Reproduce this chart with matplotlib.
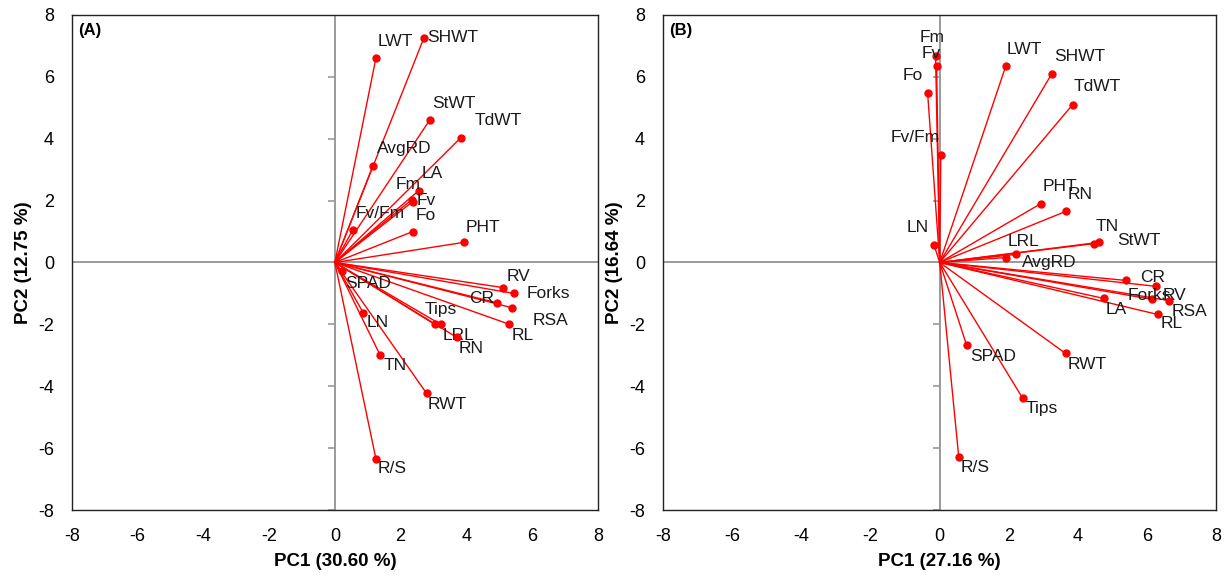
import matplotlib
matplotlib.use("Agg")
import matplotlib.pyplot as plt

plt.rcParams["font.family"] = ["Liberation Sans", "DejaVu Sans"]
plt.rcParams["axes.unicode_minus"] = False

# Panel A loadings
labels_a = ["LWT", "SHWT", "StWT", "TdWT", "AvgRD", "LA", "Fm", "Fv", "Fo", "Fv/Fm",
            "PHT", "SPAD", "RV", "Forks", "CR", "RSA", "RL", "Tips", "LRL", "RN",
            "LN", "TN", "RWT", "R/S"]
pc1_a = [1.25, 2.71, 2.89, 3.83, 1.16, 2.55, 2.34, 2.37, 2.37, 0.55,
         3.92, 0.21, 5.11, 5.44, 4.92, 5.38, 5.29, 3.04, 3.22, 3.71,
         0.86, 1.38, 2.79, 1.25]
pc2_a = [6.61, 7.26, 4.61, 4.03, 3.13, 2.32, 2.03, 1.97, 1.00, 1.06,
         0.65, -0.29, -0.81, -1.00, -1.30, -1.46, -1.99, -2.00, -2.00, -2.42,
         -1.62, -3.00, -4.23, -6.35]

# Panel B loadings
labels_b = ["Fm", "Fv", "Fo", "Fv/Fm", "LN", "LWT", "SHWT", "TdWT", "PHT", "RN",
            "TN", "StWT", "LRL", "AvgRD", "CR", "RV", "Forks", "RSA", "RL", "LA",
            "SPAD", "Tips", "R/S", "RWT"]
pc1_b = [-0.12, -0.09, -0.35, 0.03, -0.17, 1.91, 3.24, 3.84, 2.92, 3.64,
         4.45, 4.60, 2.20, 1.91, 5.38, 6.24, 6.13, 6.62, 6.30, 4.74,
         0.78, 2.40, 0.55, 3.64]
pc2_b = [6.68, 6.35, 5.48, 3.48, 0.58, 6.35, 6.10, 5.10, 1.90, 1.65,
         0.61, 0.65, 0.26, 0.16, -0.58, -0.77, -1.19, -1.23, -1.68, -1.16,
         -2.68, -4.39, -6.29, -2.94]

ticks = [-8, -6, -4, -2, 0, 2, 4, 6, 8]

# label offsets in pixels (dx right, dy down)
off_a = {"LWT": (2, -16), "SHWT": (3, 0), "StWT": (2, -16), "TdWT": (14, -17),
         "AvgRD": (4, -17), "LA": (3, -17), "Fm": (-16, -15), "Fv": (4, -1),
         "Fo": (3, -16), "Fv/Fm": (3, -16), "PHT": (2, -15), "SPAD": (3, 12),
         "RV": (4, -11), "Forks": (13, 0), "CR": (-27, -4), "RSA": (21, 13),
         "RL": (3, 11), "Tips": (-10, -15), "LRL": (2, 11), "RN": (2, 11),
         "LN": (3, 10), "TN": (3, 10), "RWT": (1, 11), "R/S": (2, 10)}
off_b = {"Fm": (-16, -18), "Fv": (-15, -13), "Fo": (-25, -17), "Fv/Fm": (-50, -17),
         "LN": (-27, -17), "LWT": (1, -17), "SHWT": (2, -17), "TdWT": (1, -18),
         "PHT": (2, -17), "RN": (2, -17), "TN": (2, -17), "StWT": (18, -2),
         "LRL": (-8, -13), "AvgRD": (16, 5), "CR": (14, -3), "RV": (7, 9),
         "Forks": (-24, -4), "RSA": (3, 11), "RL": (3, 9), "LA": (2, 11),
         "SPAD": (3, 11), "Tips": (3, 10), "R/S": (2, 10), "RWT": (2, 11)}


def draw_panel(ax, labels, xs, ys, offsets, xlabel, ylabel, tag):
    ax.set_xlim(-8, 8)
    ax.set_ylim(-8, 8)
    ax.axhline(0, color="#9a9a9a", lw=1.4, zorder=1)
    ax.axvline(0, color="#9a9a9a", lw=1.4, zorder=1)
    # y tick marks sit on the vertical zero line, pointing left
    ax.plot([0] * len(ticks), ticks, ls="none", marker=0, ms=5, mew=1.2,
            color="#9a9a9a", zorder=1)
    for lab, x, y in zip(labels, xs, ys):
        ax.plot([0, x], [0, y], color="red", lw=1.0, zorder=2)
        ax.plot(x, y, "o", color="red", ms=5, zorder=3)
        dx, dy = offsets[lab]
        ax.annotate(lab, (x, y), xytext=(dx * 0.72, -dy * 0.72),
                    textcoords="offset points", ha="left", va="center",
                    fontsize=12.5, color="#1a1a1a")
    ax.set_xticks(ticks)
    ax.set_yticks(ticks)
    ax.tick_params(axis="x", length=0, labelsize=13, pad=13)
    ax.tick_params(axis="y", length=0, labelsize=13, pad=13)
    for s in ax.spines.values():
        s.set_color("#222222")
        s.set_linewidth(1.0)
    ax.set_xlabel(xlabel, fontsize=13.5, fontweight="bold", labelpad=6)
    ax.set_ylabel(ylabel, fontsize=13.5, fontweight="bold", labelpad=4)
    ax.text(0.011, 0.968, tag, transform=ax.transAxes, fontsize=12,
            fontweight="bold", ha="left", va="center")


fig = plt.figure(figsize=(12.3, 5.75), dpi=100)
ax_a = fig.add_axes([0.0585, 0.113, 0.4275, 0.861])
ax_b = fig.add_axes([0.539, 0.113, 0.450, 0.861])

draw_panel(ax_a, labels_a, pc1_a, pc2_a, off_a, "PC1 (30.60 %)", "PC2 (12.75 %)", "(A)")
draw_panel(ax_b, labels_b, pc1_b, pc2_b, off_b, "PC1 (27.16 %)", "PC2 (16.64 %)", "(B)")

fig.savefig("out.png", dpi=100)
